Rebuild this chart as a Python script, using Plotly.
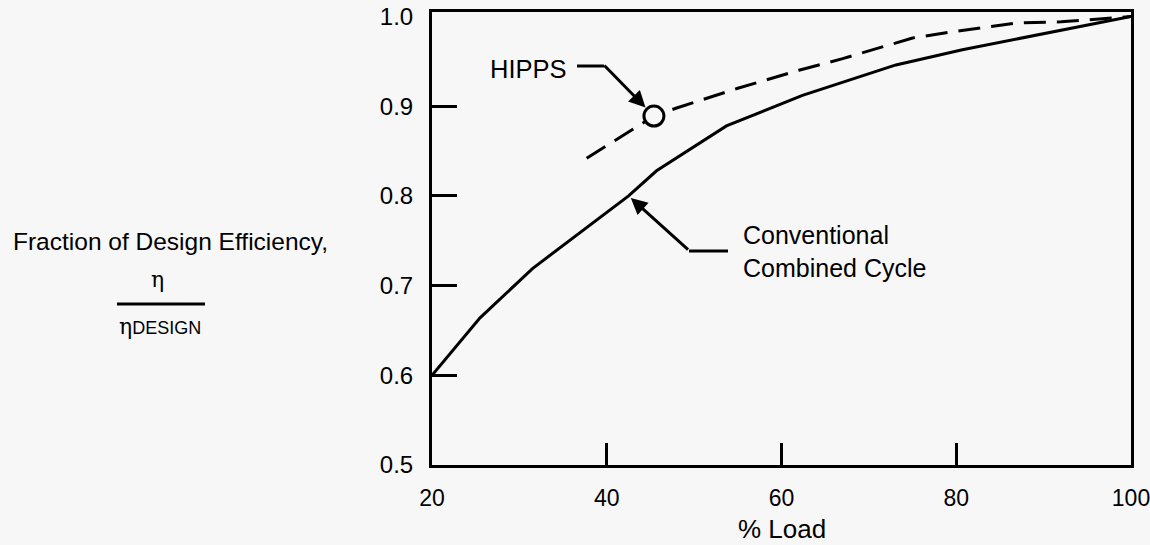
import plotly.graph_objects as go

# Data
conv_load = [20, 25.5, 31.5, 42.5, 45.7, 53.7, 62.4, 73.1, 80.7, 95.6, 100]
conv_eff = [0.600, 0.664, 0.719, 0.800, 0.828, 0.878, 0.912, 0.946, 0.963, 0.992, 1.000]

hipps_load = [37.7, 45.4, 48.0, 55.0, 62.0, 67.0, 75.0, 79.6, 87.2, 92.0, 100]
hipps_eff = [0.842, 0.889, 0.898, 0.920, 0.940, 0.953, 0.976, 0.983, 0.993, 0.994, 1.000]

hipps_marker_load = [45.4]
hipps_marker_eff = [0.889]

x_ticks = [20, 40, 60, 80, 100]
x_ticktext = ["20", "40", "60", "80", "100"]
y_ticks = [0.5, 0.6, 0.7, 0.8, 0.9, 1.0]
y_ticktext = ["0.5", "0.6", "0.7", "0.8", "0.9", "1.0"]

BG = "#f7f7f7"
FONT = "Liberation Sans, Arial, Helvetica, sans-serif"
FS = 24

W, H = 1150, 545
L, R, T, B = 432, 1131, 12, 465  # plot area in pixels


def xp(px):
    return (px - L) / (R - L)


def yp(py):
    return (B - py) / (B - T)


fig = go.Figure()
fig.add_trace(go.Scatter(x=conv_load, y=conv_eff, mode="lines",
                         line=dict(color="black", width=3), showlegend=False,
                         name="Conventional Combined Cycle"))
fig.add_trace(go.Scatter(x=hipps_load, y=hipps_eff, mode="lines",
                         line=dict(color="black", width=3, dash="22px,11px"),
                         showlegend=False, name="HIPPS"))
fig.add_trace(go.Scatter(x=hipps_marker_load, y=hipps_marker_eff, mode="markers",
                         marker=dict(size=20, color=BG, line=dict(color="black", width=3)),
                         showlegend=False, name="HIPPS point"))

fig.update_layout(
    width=W, height=H,
    margin=dict(l=L, r=W - R, t=T, b=H - B, autoexpand=False),
    paper_bgcolor=BG, plot_bgcolor=BG,
    font=dict(family=FONT, size=FS, color="black"),
    xaxis=dict(range=[20, 100], tickvals=x_ticks, ticktext=x_ticktext,
               ticks="", showgrid=False, zeroline=False, automargin=False,
               showline=True, linecolor="black", linewidth=3, mirror=True,
               ticklabelstandoff=10, ticklabeloverflow="allow",
               tickfont=dict(size=23),
               minor=dict(tickvals=[40, 60, 80], ticks="inside", ticklen=22,
                          tickwidth=3, tickcolor="black", showgrid=False)),
    yaxis=dict(range=[0.5, 1.005], tickvals=y_ticks, ticktext=y_ticktext,
               ticks="", showgrid=False, zeroline=False, automargin=False,
               showline=True, linecolor="black", linewidth=3, mirror=True,
               ticklabelstandoff=11, ticklabeloverflow="allow",
               minor=dict(tickvals=[0.6, 0.7, 0.8, 0.9], ticks="inside", ticklen=25,
                          tickwidth=3, tickcolor="black", showgrid=False)),
)

ann = []
# axis titles
ann.append(dict(text="% Load", xref="paper", yref="paper", x=0.5, y=yp(529),
                xanchor="center", yanchor="middle", showarrow=False,
                font=dict(size=26)))
ann.append(dict(text="Fraction of Design Efficiency,", xref="paper", yref="paper",
                x=xp(170), y=yp(242), xanchor="center", yanchor="middle", showarrow=False,
                font=dict(size=24.5)))
ann.append(dict(text="η", xref="paper", yref="paper", x=xp(157), y=yp(279),
                xanchor="center", yanchor="middle", showarrow=False,
                font=dict(family="DejaVu Serif, Liberation Serif, serif", size=22)))
ann.append(dict(text="η<span style='font-family:Liberation Sans, Arial, sans-serif;font-size:18px'>DESIGN</span>",
                xref="paper", yref="paper", x=xp(160), y=yp(326),
                xanchor="center", yanchor="middle", showarrow=False,
                font=dict(family="DejaVu Serif, Liberation Serif, serif", size=22)))
# HIPPS label and leader
ann.append(dict(text="HIPPS", xref="paper", yref="paper", x=xp(569), y=yp(69),
                xanchor="right", yanchor="middle", showarrow=False,
                font=dict(size=25.5)))
ann.append(dict(text="", x=hipps_marker_load[0], y=hipps_marker_eff[0], xref="x", yref="y",
                ax=603 - 654, ay=66 - 118, axref="pixel", ayref="pixel",
                showarrow=True, arrowhead=2, arrowsize=1.1, arrowwidth=3,
                arrowcolor="black", standoff=12))
# Conventional label and leader
ann.append(dict(text="Conventional<br>Combined Cycle", xref="paper", yref="paper",
                x=xp(741), y=yp(251), xanchor="left", yanchor="middle",
                align="left", showarrow=False, font=dict(size=25)))
ann.append(dict(text="", x=conv_load[3], y=conv_eff[3], xref="x", yref="y",
                ax=690 - 629, ay=251 - 196, axref="pixel", ayref="pixel",
                showarrow=True, arrowhead=2, arrowsize=1.1, arrowwidth=3,
                arrowcolor="black", standoff=3))
fig.update_layout(annotations=ann)

shapes = [
    dict(type="line", xref="paper", yref="paper", x0=xp(577), x1=xp(604), y0=yp(66), y1=yp(66),
         line=dict(color="black", width=3)),
    dict(type="line", xref="paper", yref="paper", x0=xp(689), x1=xp(728), y0=yp(251), y1=yp(251),
         line=dict(color="black", width=3)),
    dict(type="line", xref="paper", yref="paper", x0=xp(117), x1=xp(205), y0=yp(304), y1=yp(304),
         line=dict(color="black", width=3)),
]
fig.update_layout(shapes=shapes)

fig.write_html(
    "out.html",
    config={"displayModeBar": False},
    post_script="document.body.style.margin='0';document.body.style.background='" + BG + "';"
                "document.documentElement.style.overflow='hidden';",
)
